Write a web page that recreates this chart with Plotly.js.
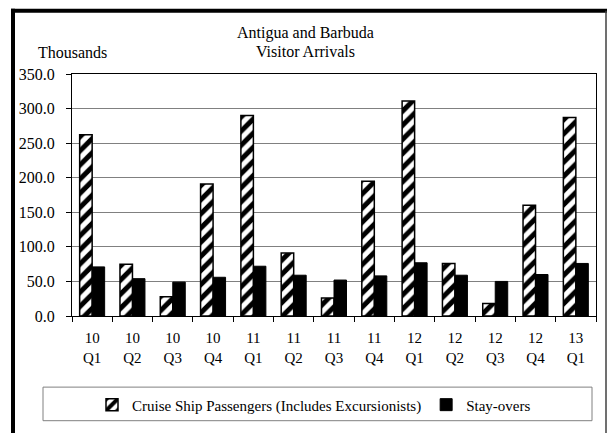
<!DOCTYPE html>
<html>
<head>
<meta charset="utf-8">
<script src="https://cdn.plot.ly/plotly-3.0.1.min.js"></script>
<style>
  html, body { margin: 0; padding: 0; background: #ffffff; }
  #chart { width: 608px; height: 433px; }
</style>
</head>
<body>
<div id="chart"></div>
<script>
const quarters = ["10<br>Q1", "10<br>Q2", "10<br>Q3", "10<br>Q4",
                  "11<br>Q1", "11<br>Q2", "11<br>Q3", "11<br>Q4",
                  "12<br>Q1", "12<br>Q2", "12<br>Q3", "12<br>Q4",
                  "13<br>Q1"];
const cruisePassengers = [262, 75, 28, 191, 290, 91, 26, 195, 311, 76, 18, 160, 287];
const stayOvers = [71, 54, 49, 56, 72, 59, 52, 58, 77, 59, 50, 60, 76];
const yTicks = [0, 50, 100, 150, 200, 250, 300, 350];

const FONT = "Liberation Serif";

// pixel -> paper helpers (plot area: x 72..596, y 74..319)
const PL = 72, PR = 596, PT = 74, PB = 319;
const px = v => (v - PL) / (PR - PL);
const py = v => (PB - v) / (PB - PT);

const traces = [
  {
    type: "bar",
    name: "Cruise Ship Passengers (Includes Excursionists)",
    x: quarters,
    y: cruisePassengers,
    marker: {
      color: "white",
      line: { color: "black", width: 1.5 },
      pattern: { shape: "/", fgcolor: "black", bgcolor: "white", size: 10, solidity: 0.5 }
    }
  },
  {
    type: "bar",
    name: "Stay-overs",
    x: quarters,
    y: stayOvers,
    marker: { color: "black", line: { color: "black", width: 1 } }
  }
];

const layout = {
  width: 608,
  height: 433,
  margin: { l: PL, r: 608 - PR, t: PT, b: 433 - PB, pad: 0 },
  paper_bgcolor: "white",
  plot_bgcolor: "white",
  font: { family: FONT, size: 16, color: "black" },
  barmode: "group",
  bargap: 0.38,
  bargroupgap: 0,
  showlegend: true,
  xaxis: {
    type: "category",
    tickson: "boundaries",
    ticks: "outside",
    ticklen: 5,
    tickcolor: "black",
    ticklabelstandoff: 8,
    showline: true,
    linecolor: "black",
    linewidth: 1,
    mirror: true,
    showgrid: false,
    tickfont: { family: FONT, size: 15, color: "black" }
  },
  yaxis: {
    range: [0, 350],
    tickvals: yTicks,
    tickformat: ".1f",
    ticks: "outside",
    ticklen: 5,
    tickcolor: "black",
    ticklabelstandoff: 8,
    showline: true,
    linecolor: "black",
    linewidth: 1,
    mirror: true,
    showgrid: true,
    gridcolor: "#808080",
    gridwidth: 1,
    zeroline: false,
    tickfont: { family: FONT, size: 16, color: "black" }
  },
  legend: {
    orientation: "h",
    x: px(314), xanchor: "center",
    y: py(409), yanchor: "middle",
    bgcolor: "rgba(0,0,0,0)",
    borderwidth: 0,
    font: { family: FONT, size: 15, color: "black" },
    itemwidth: 30
  },
  annotations: [
    {
      text: "Antigua and Barbuda",
      xref: "paper", yref: "paper",
      x: px(305), y: py(32),
      xanchor: "center", yanchor: "middle",
      showarrow: false,
      font: { family: FONT, size: 16, color: "black" }
    },
    {
      text: "Visitor Arrivals",
      xref: "paper", yref: "paper",
      x: px(305), y: py(51),
      xanchor: "center", yanchor: "middle",
      showarrow: false,
      font: { family: FONT, size: 16, color: "black" }
    },
    {
      text: "Thousands",
      xref: "paper", yref: "paper",
      x: px(72), y: py(52),
      xanchor: "center", yanchor: "middle",
      showarrow: false,
      font: { family: FONT, size: 16, color: "black" }
    }
  ],
  shapes: [
    // legend box
    { type: "rect", xref: "paper", yref: "paper",
      x0: px(43), x1: px(592), y0: py(391), y1: py(425),
      line: { color: "#808080", width: 1 }, fillcolor: "rgba(0,0,0,0)" },
    // outer border: left (thick)
    { type: "line", xref: "paper", yref: "paper",
      x0: px(13), x1: px(13), y0: py(8), y1: py(445),
      line: { color: "black", width: 4 } },
    // top (thick)
    { type: "line", xref: "paper", yref: "paper",
      x0: px(11), x1: px(607), y0: py(10), y1: py(10),
      line: { color: "black", width: 4 } },
    // right (thin)
    { type: "line", xref: "paper", yref: "paper",
      x0: px(606), x1: px(606), y0: py(10), y1: py(445),
      line: { color: "#404040", width: 1.5 } }
  ]
};

Plotly.newPlot("chart", traces, layout, { displayModeBar: false, staticPlot: true });
</script>
</body>
</html>
